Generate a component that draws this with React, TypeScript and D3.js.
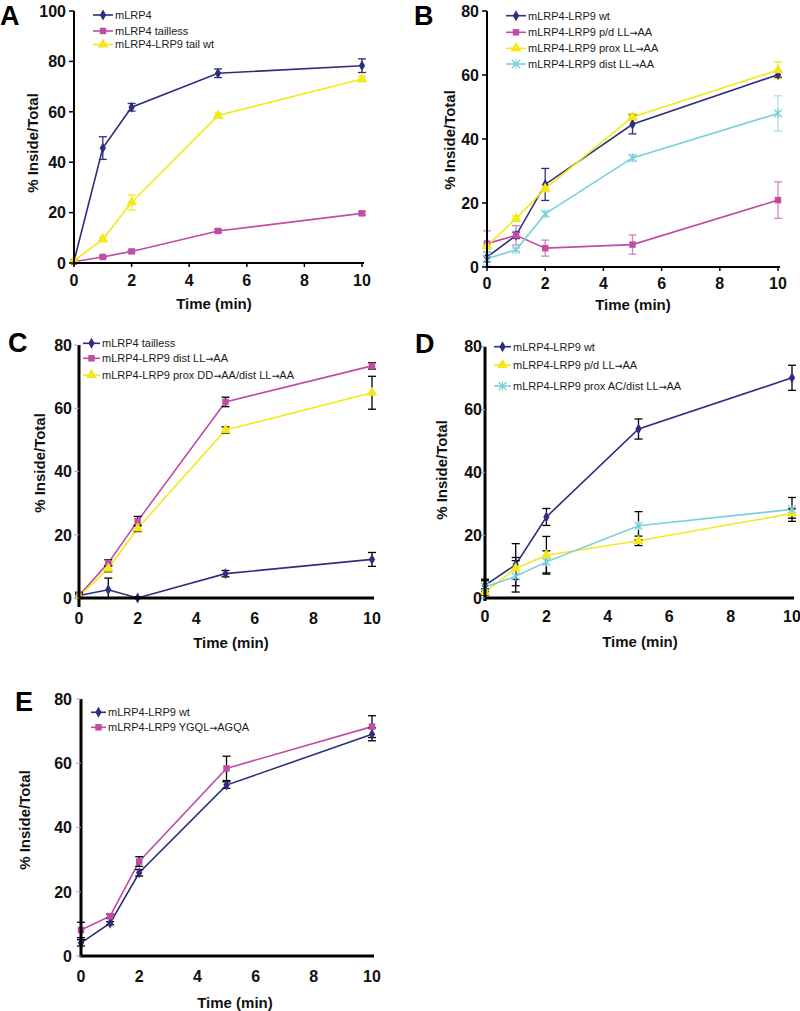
import React from "react";
import * as d3 from "d3";

const times = [0, 1, 2, 5, 10];
const xTicks = [0, 2, 4, 6, 8, 10];

// Panel A
const aNames = ["mLRP4", "mLRP4 tailless", "mLRP4-LRP9 tail wt"];
const aMLRP4 = [0.7, 45.6, 61.8, 75.3, 78.3];
const aMLRP4Err = [0.5, 4.5, 1.5, 1.7, 2.7];
const aTailless = [0.5, 2.4, 4.6, 12.7, 19.7];
const aTaillessErr = [0.3, 0.4, 0.5, 0.6, 0.7];
const aTailWt = [0.8, 9.5, 24, 58.5, 73];
const aTailWtErr = [0.5, 1, 3, 1, 1];
const aYTicks = [0, 20, 40, 60, 80, 100];

// Panel B
const bNames = ["mLRP4-LRP9 wt", "mLRP4-LRP9 p/d LL\u2192AA", "mLRP4-LRP9 prox LL\u2192AA", "mLRP4-LRP9 dist LL\u2192AA"];
const bWt = [3.1, 9.9, 25.8, 44.6, 60.1];
const bWtErr = [1.5, 1, 5, 3, 0.8];
const bPd = [7.3, 9.9, 5.9, 7.0, 20.9];
const bPdErr = [4, 3, 2.5, 3, 5.7];
const bProx = [6.6, 15.1, 24.5, 46.9, 61.5];
const bProxErr = [1, 0.8, 1, 1, 2.6];
const bDist = [2.6, 5.4, 16.6, 34.1, 48];
const bDistErr = [2, 0.5, 0.8, 1, 5.5];

// Panel C
const cNames = ["mLRP4 tailless", "mLRP4-LRP9 dist LL\u2192AA", "mLRP4-LRP9 prox DD\u2192AA/dist LL\u2192AA"];
const cTailless = [0.8, 2.6, 0, 7.7, 12.2];
const cTaillessErr = [0.5, 3.7, 0.3, 1, 2.2];
const cDist = [0.8, 11.1, 24.3, 62, 73.4];
const cDistErr = [1, 1, 1.5, 1.5, 1];
const cProxDD = [0.5, 9.3, 22, 53.1, 64.9];
const cProxDDErr = [0.5, 1, 1, 1, 5.2];

// Panel D
const dNames = ["mLRP4-LRP9 wt", "mLRP4-LRP9 p/d LL\u2192AA", "mLRP4-LRP9 prox AC/dist LL\u2192AA"];
const dWt = [4, 10.6, 25.8, 53.8, 70.1];
const dWtErr = [2, 6.7, 2.7, 3.2, 4];
const dPd = [1.9, 9.4, 13.6, 18.2, 26.9];
const dPdErr = [1, 3.5, 6, 1.5, 1.5];
const dProxAC = [3.5, 6.9, 11.5, 23, 28.2];
const dProxACErr = [2, 5, 3.5, 4.5, 3.8];

// Panel E
const eNames = ["mLRP4-LRP9 wt", "mLRP4-LRP9 YGQL\u2192AGQA"];
const eWt = [4.1, 10.2, 25.9, 53.2, 69];
const eWtErr = [1, 0.5, 1, 1, 2];
const eYgql = [8.1, 12.4, 29.4, 58.4, 71.4];
const eYgqlErr = [2.4, 0.7, 1.5, 3.8, 3.4];

const eightyTicks = [0, 20, 40, 60, 80];

const NAVY = "#2d2f7c";
const MAGENTA = "#c04ca5";
const YELLOW = "#f3e81c";
const CYAN = "#79cfdc";
const FONT = "'Liberation Sans', Arial, Helvetica, sans-serif";

type Marker = "diamond" | "square" | "triangle" | "star";

interface Series {
  name: string;
  values: number[];
  err: number[];
  color: string;
  marker: Marker;
  errColor?: string;
}

interface PanelCfg {
  letter: string;
  letterX: number;
  letterY: number;
  x0: number;
  x1: number;
  yBottom: number;
  yTop: number;
  yMax: number;
  yTicks: number[];
  series: Series[];
  legendX: number;
  legendY: number[];
  legendLine: number;
  axisWidth: number;
  style: "prism" | "excel";
  xTickY: number;
  yTickRight: number;
  yTitleX: number;
  yTitleY: number;
  xTitleX: number;
  xTitleY: number;
  yAxisExtra?: number;
}

function MarkerShape({ type, x, y, color }: { type: Marker; x: number; y: number; color: string }) {
  if (type === "star") {
    const p = d3.symbol().type(d3.symbolX).size(42)();
    return (
      <g transform={`translate(${x},${y})`}>
        <path d={p || ""} stroke={color} strokeWidth={1.3} fill="none" />
        <line x1={0} x2={0} y1={-4.5} y2={4.5} stroke={color} strokeWidth={1.1} />
      </g>
    );
  }
  const t = type === "diamond" ? d3.symbolDiamond : type === "square" ? d3.symbolSquare : d3.symbolTriangle;
  const s = type === "diamond" ? 34 : type === "square" ? 42 : 50;
  const p = d3.symbol().type(t).size(s)();
  return <path d={p || ""} transform={`translate(${x},${y})`} fill={color} stroke="none" />;
}

function LegendLabel({ text }: { text: string }) {
  const parts = text.split("\u2192");
  const out: React.ReactNode[] = [];
  parts.forEach((p, i) => {
    if (i > 0)
      out.push(
        <tspan key={"a" + i} fontFamily="'DejaVu Sans', sans-serif" fontSize={9.5}>
          {"\u2192"}
        </tspan>
      );
    out.push(<tspan key={"t" + i}>{p}</tspan>);
  });
  return <>{out}</>;
}

function Panel({ cfg }: { cfg: PanelCfg }) {
  const x = d3.scaleLinear().domain([0, 10]).range([cfg.x0, cfg.x1]);
  const y = d3.scaleLinear().domain([0, cfg.yMax]).range([cfg.yBottom, cfg.yTop]);
  const line = d3
    .line<number>()
    .x((_, i) => x(times[i]))
    .y((d) => y(d));
  const cap = 4;
  return (
    <g fontFamily={FONT}>
      <text x={cfg.letterX} y={cfg.letterY} fontSize={27} fontWeight="bold" fill="#000">
        {cfg.letter}
      </text>
      {cfg.series.map((s, si) => (
        <path key={"l" + si} d={line(s.values) || ""} fill="none" stroke={s.color} strokeWidth={1.6} />
      ))}
      {cfg.series.map((s, si) => (
        <g key={"e" + si} stroke={s.errColor || s.color} strokeWidth={1.3}>
          {s.values.map((v, i) => {
            const cx = x(times[i]);
            const yt = y(v + s.err[i]);
            const yb = y(Math.max(0, v - s.err[i]));
            return (
              <g key={i}>
                <line x1={cx} x2={cx} y1={yt} y2={yb} />
                <line x1={cx - cap} x2={cx + cap} y1={yt} y2={yt} />
                <line x1={cx - cap} x2={cx + cap} y1={yb} y2={yb} />
              </g>
            );
          })}
        </g>
      ))}
      {cfg.series.map((s, si) => (
        <g key={"m" + si}>
          {s.values.map((v, i) => (
            <MarkerShape key={i} type={s.marker} x={x(times[i])} y={y(v)} color={s.color} />
          ))}
        </g>
      ))}
      <line
        x1={cfg.x0}
        x2={cfg.x0}
        y1={cfg.yTop}
        y2={cfg.yBottom + (cfg.yAxisExtra || 0)}
        stroke="#000"
        strokeWidth={cfg.axisWidth}
      />
      <line
        x1={cfg.x0 - cfg.axisWidth / 2}
        x2={cfg.x1 + 2}
        y1={cfg.yBottom}
        y2={cfg.yBottom}
        stroke="#000"
        strokeWidth={cfg.axisWidth}
      />
      {cfg.yTicks.map((t) => (
        <g key={"yt" + t}>
          <line
            x1={cfg.x0 - 5}
            x2={cfg.x0}
            y1={y(t)}
            y2={y(t)}
            stroke={cfg.style === "prism" ? "#000" : "#aaa"}
            strokeWidth={cfg.style === "prism" ? 1.5 : 1}
          />
          <text x={cfg.yTickRight} y={y(t)} dy="0.36em" textAnchor="end" fontSize={16} fontWeight="bold" fill="#111">
            {t}
          </text>
        </g>
      ))}
      {xTicks.map((t) => (
        <g key={"xt" + t}>
          {cfg.style === "prism" && (
            <line x1={x(t)} x2={x(t)} y1={cfg.yBottom} y2={cfg.yBottom + 4} stroke="#000" strokeWidth={1.5} />
          )}
          <text x={x(t)} y={cfg.xTickY} dy="0.36em" textAnchor="middle" fontSize={16} fontWeight="bold" fill="#111">
            {t}
          </text>
        </g>
      ))}
      <text x={cfg.xTitleX} y={cfg.xTitleY} dy="0.36em" textAnchor="middle" fontSize={15} fontWeight="bold" fill="#111">
        Time (min)
      </text>
      <text
        transform={`translate(${cfg.yTitleX},${cfg.yTitleY}) rotate(-90)`}
        dy="0.36em"
        textAnchor="middle"
        fontSize={15}
        fontWeight="bold"
        fill="#111"
      >
        % Inside/Total
      </text>
      {cfg.series.map((s, si) => {
        const ly = cfg.legendY[si];
        const lx = cfg.legendX;
        return (
          <g key={"lg" + si}>
            <line x1={lx} x2={lx + cfg.legendLine} y1={ly} y2={ly} stroke={s.color} strokeWidth={1.6} />
            <MarkerShape type={s.marker} x={lx + cfg.legendLine / 2} y={ly} color={s.color} />
            <text x={lx + cfg.legendLine + 2} y={ly} dy="0.36em" fontSize={11} fill="#1a1a1a">
              <LegendLabel text={s.name} />
            </text>
          </g>
        );
      })}
    </g>
  );
}

const panels: PanelCfg[] = [
  {
    letter: "A",
    letterX: 0,
    letterY: 25,
    x0: 74,
    x1: 362,
    yBottom: 263,
    yTop: 11,
    yMax: 100,
    yTicks: aYTicks,
    series: [
      { name: aNames[0], values: aMLRP4, err: aMLRP4Err, color: NAVY, marker: "diamond" },
      { name: aNames[1], values: aTailless, err: aTaillessErr, color: MAGENTA, marker: "square" },
      { name: aNames[2], values: aTailWt, err: aTailWtErr, color: YELLOW, marker: "triangle" },
    ],
    legendX: 93,
    legendY: [15, 31, 44.5],
    legendLine: 20,
    axisWidth: 2,
    style: "prism",
    xTickY: 280,
    yTickRight: 66,
    yTitleX: 33,
    yTitleY: 143,
    xTitleX: 214,
    xTitleY: 304,
  },
  {
    letter: "B",
    letterX: 414,
    letterY: 25,
    x0: 487,
    x1: 778,
    yBottom: 267,
    yTop: 11,
    yMax: 80,
    yTicks: eightyTicks,
    series: [
      { name: bNames[0], values: bWt, err: bWtErr, color: NAVY, marker: "diamond" },
      { name: bNames[1], values: bPd, err: bPdErr, color: MAGENTA, marker: "square", errColor: "#cf86bf" },
      { name: bNames[2], values: bProx, err: bProxErr, color: YELLOW, marker: "triangle" },
      { name: bNames[3], values: bDist, err: bDistErr, color: CYAN, marker: "star", errColor: "#a9dde6" },
    ],
    legendX: 506,
    legendY: [15.7, 32.3, 48.3, 64],
    legendLine: 20,
    axisWidth: 2,
    style: "prism",
    xTickY: 283,
    yTickRight: 479,
    yTitleX: 450,
    yTitleY: 140,
    xTitleX: 633,
    xTitleY: 305,
  },
  {
    letter: "C",
    letterX: 8,
    letterY: 352,
    x0: 79,
    x1: 372,
    yBottom: 598,
    yTop: 345,
    yMax: 80,
    yTicks: eightyTicks,
    series: [
      { name: cNames[0], values: cTailless, err: cTaillessErr, color: NAVY, marker: "diamond", errColor: "#000" },
      { name: cNames[1], values: cDist, err: cDistErr, color: MAGENTA, marker: "square", errColor: "#000" },
      { name: cNames[2], values: cProxDD, err: cProxDDErr, color: YELLOW, marker: "triangle", errColor: "#000" },
    ],
    legendX: 83,
    legendY: [343.3, 358.3, 375],
    legendLine: 17,
    axisWidth: 3,
    style: "excel",
    xTickY: 618,
    yTickRight: 72,
    yTitleX: 40,
    yTitleY: 463,
    xTitleX: 231,
    xTitleY: 643,
    yAxisExtra: 9,
  },
  {
    letter: "D",
    letterX: 415,
    letterY: 353,
    x0: 485,
    x1: 792,
    yBottom: 598,
    yTop: 346.7,
    yMax: 80,
    yTicks: eightyTicks,
    series: [
      { name: dNames[0], values: dWt, err: dWtErr, color: NAVY, marker: "diamond", errColor: "#000" },
      { name: dNames[1], values: dPd, err: dPdErr, color: YELLOW, marker: "triangle", errColor: "#000" },
      { name: dNames[2], values: dProxAC, err: dProxACErr, color: CYAN, marker: "star", errColor: "#000" },
    ],
    legendX: 494,
    legendY: [346.7, 365, 386],
    legendLine: 17,
    axisWidth: 3,
    style: "excel",
    xTickY: 616,
    yTickRight: 482,
    yTitleX: 442,
    yTitleY: 470,
    xTitleX: 640,
    xTitleY: 642,
    yAxisExtra: 3,
  },
  {
    letter: "E",
    letterX: 15,
    letterY: 711,
    x0: 81,
    x1: 372,
    yBottom: 956,
    yTop: 699,
    yMax: 80,
    yTicks: eightyTicks,
    series: [
      { name: eNames[0], values: eWt, err: eWtErr, color: NAVY, marker: "diamond", errColor: "#000" },
      { name: eNames[1], values: eYgql, err: eYgqlErr, color: MAGENTA, marker: "square", errColor: "#000" },
    ],
    legendX: 91,
    legendY: [712.3, 727.3],
    legendLine: 15,
    axisWidth: 3,
    style: "excel",
    xTickY: 976,
    yTickRight: 72,
    yTitleX: 25,
    yTitleY: 820,
    xTitleX: 235,
    xTitleY: 1003,
  },
];

export default function App() {
  return (
    <div>
      <style>{`body{margin:0;background:#fff}`}</style>
      <svg width={800} height={1011} style={{ display: "block" }}>
        <rect width={800} height={1011} fill="#fff" />
        {panels.map((p) => (
          <Panel key={p.letter} cfg={p} />
        ))}
      </svg>
    </div>
  );
}
